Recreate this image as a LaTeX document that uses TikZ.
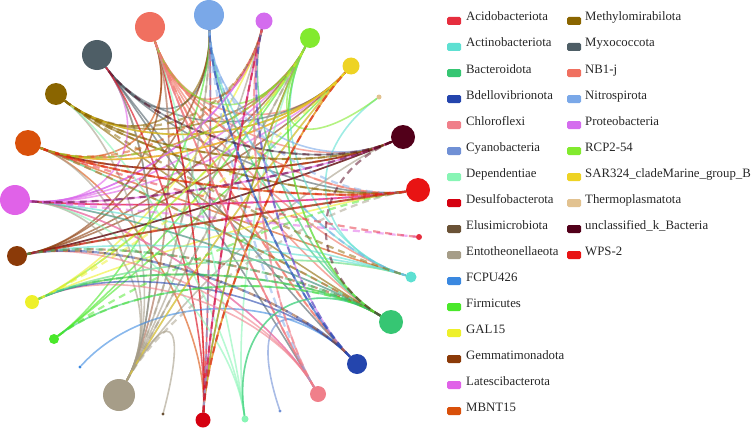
\documentclass[tikz,border=0pt]{standalone}
\usepackage{fontspec}
\setmainfont{Liberation Serif}
\usetikzlibrary{calc}
\definecolor{cacido}{HTML}{E62E3E}
\definecolor{cactino}{HTML}{5EE0D2}
\definecolor{cbactero}{HTML}{36C673}
\definecolor{cbdello}{HTML}{2445AD}
\definecolor{cchloro}{HTML}{F07F8A}
\definecolor{ccyano}{HTML}{7090D5}
\definecolor{cdepend}{HTML}{88F5B5}
\definecolor{cdesulfo}{HTML}{D50010}
\definecolor{celusi}{HTML}{6A5236}
\definecolor{centot}{HTML}{A69D88}
\definecolor{cfcpu}{HTML}{3A88E0}
\definecolor{cfirmi}{HTML}{4AE82A}
\definecolor{cgal}{HTML}{EEF02A}
\definecolor{cgemma}{HTML}{8B3A08}
\definecolor{clates}{HTML}{E062E8}
\definecolor{cmbnt}{HTML}{D9500A}
\definecolor{cmethyl}{HTML}{8A6500}
\definecolor{cmyxo}{HTML}{4E5E66}
\definecolor{cnbj}{HTML}{F07060}
\definecolor{cnitro}{HTML}{7AA8E8}
\definecolor{cproteo}{HTML}{D46CEE}
\definecolor{crcp}{HTML}{82EA2E}
\definecolor{csar}{HTML}{EED324}
\definecolor{cthermo}{HTML}{E2C290}
\definecolor{cuncl}{HTML}{52001A}
\definecolor{cwps}{HTML}{E81414}
\tikzset{
  taxon/.style={circle,inner sep=0pt,draw=none},
  edgeline/.style={line width=1.6pt,draw opacity=0.6,line cap=round},
  dashedge/.style={line width=2.2pt,draw opacity=0.5,dash pattern=on 7pt off 5pt},
  legbox/.style={rounded corners=1.5pt,minimum width=14pt,minimum height=8pt,inner sep=0pt,draw=none},
  legtext/.style={anchor=base west,inner sep=0pt,text=black!85,font=\fontsize{12.8}{15}\selectfont}
}
\begin{document}
\begin{tikzpicture}[x=1pt,y=-1pt]
\useasboundingbox (0,0) rectangle (754,428);
\coordinate (C) at (215,217);
\def\taxa{nitro/209/15/15, nbj/150/27/15, myxo/97/55/15, methyl/56/94/11,
  mbnt/28/143/13, lates/15/200/15, gemma/17/256/10, gal/32/302/7, firmi/54/339/5,
  fcpu/80/367/1.6, entot/119/395/16, elusi/163/414/1.6, desulfo/203/420/7.5,
  depend/245/419/3.5, cyano/280/411/1.6, chloro/318/394/8, bdello/357/364/10,
  bactero/391/322/12, actino/411/277/5.5, acido/419/237/3, wps/418/190/12,
  uncl/403/137/12, thermo/379/97/2.5, sar/351/66/8.5, rcp/310/38/10, proteo/264/21/8.5}
\foreach \n/\x/\y/\r in \taxa
  {\node[taxon,minimum size=2*\r pt] (\n) at (\x,\y) {};}
% solid edges
\foreach \a/\b in {nbj/uncl, nbj/wps, nbj/bactero, nbj/desulfo, nbj/actino, nbj/sar, nbj/entot,
  nbj/chloro, nbj/bdello, nbj/proteo,
  myxo/nitro, myxo/wps, myxo/uncl, myxo/bdello, myxo/entot, myxo/sar, myxo/chloro,
  methyl/uncl, methyl/wps, methyl/sar, methyl/nitro, methyl/bactero, methyl/rcp,
  mbnt/uncl, mbnt/wps, mbnt/rcp, mbnt/nbj, mbnt/actino, mbnt/sar, mbnt/desulfo,
  lates/wps, lates/uncl, lates/rcp, lates/myxo, lates/chloro, lates/sar, lates/proteo, lates/bactero,
  gemma/nbj, gemma/wps, gemma/sar, gemma/nitro, gemma/uncl, gemma/rcp,
  gal/wps, gal/actino, gal/proteo, gal/bactero, firmi/nitro, firmi/rcp, firmi/sar,
  entot/nbj, entot/myxo, entot/nitro, entot/methyl, entot/proteo, entot/rcp, entot/elusi, entot/sar,
  entot/mbnt, entot/lates, entot/uncl,
  desulfo/nbj, desulfo/rcp, desulfo/myxo, desulfo/proteo, desulfo/sar, desulfo/nitro,
  depend/methyl, depend/nbj, depend/bactero, depend/rcp, depend/lates,
  cyano/bdello, fcpu/bdello,
  chloro/lates, chloro/gemma, chloro/proteo, chloro/nbj, chloro/gal,
  bdello/gal, bdello/nitro,
  bactero/lates, bactero/gal, bactero/firmi, bactero/rcp, bactero/proteo, bactero/depend,
  bactero/mbnt, bactero/nitro,
  actino/gemma, actino/gal, actino/thermo, actino/nitro, actino/lates, actino/rcp,
  sar/mbnt, sar/desulfo, sar/methyl, sar/entot,
  rcp/thermo, rcp/bactero, rcp/gal, rcp/desulfo, rcp/nbj,
  proteo/lates, proteo/bdello, proteo/desulfo, nitro/bdello, nitro/uncl,
  uncl/mbnt, uncl/gemma, wps/lates}
  {\draw[edgeline,draw=c\a] (\a) .. controls ($(\a)!0.5!(C)$) and ($(\b)!0.5!(C)$) .. (\b);}
% dashed edges
\foreach \a/\b in {nitro/wps, nitro/chloro, nitro/desulfo, nitro/actino, nbj/bdello, nbj/wps,
  methyl/wps, methyl/proteo, methyl/uncl, methyl/actino, mbnt/wps, mbnt/bactero, mbnt/proteo,
  mbnt/uncl, lates/wps, lates/acido, lates/uncl, gemma/bactero, gemma/bdello, gemma/wps,
  gal/rcp, gal/sar, firmi/wps, firmi/bactero, entot/nitro, entot/wps, entot/rcp,
  desulfo/proteo, desulfo/sar, chloro/nbj, chloro/proteo, bdello/gemma, bdello/nitro,
  bdello/proteo, bactero/gemma, bactero/gal, acido/mbnt,
  wps/gemma, wps/mbnt, uncl/myxo, uncl/lates, uncl/bactero, rcp/mbnt}
  {\draw[dashedge,draw=c\a] (\a) .. controls ($(\a)!0.5!(C)$) and ($(\b)!0.5!(C)$) .. (\b);}
% visible circles
\foreach \n/\x/\y/\r in \taxa
  {\fill[c\n] (\n.center) circle (\r);}
% legend
\foreach \c/\t [count=\i from 0] in {acido/Acidobacteriota, actino/Actinobacteriota,
  bactero/Bacteroidota, bdello/Bdellovibrionota, chloro/Chloroflexi, cyano/Cyanobacteria,
  depend/Dependentiae, desulfo/Desulfobacterota, elusi/Elusimicrobiota,
  entot/Entotheonellaeota, fcpu/FCPU426, firmi/Firmicutes, gal/GAL15,
  gemma/Gemmatimonadota, lates/Latescibacterota, mbnt/MBNT15}
  {\node[legbox,fill=c\c] (lb\c) at (454,21+26*\i) {};
   \node[legtext] (lt\c) at (466,21+26*\i) {\t};}
\foreach \c/\t [count=\i from 0] in {methyl/Methylomirabilota, myxo/Myxococcota,
  nbj/NB1-j, nitro/Nitrospirota, proteo/Proteobacteria, rcp/RCP2-54,
  sar/SAR324\_cladeMarine\_group\_B, thermo/Thermoplasmatota,
  uncl/unclassified\_k\_Bacteria, wps/WPS-2}
  {\node[legbox,fill=c\c] (lb\c) at (574,21+26*\i) {};
   \node[legtext] (lt\c) at (585,21+26*\i) {\t};}
\end{tikzpicture}
\end{document}
